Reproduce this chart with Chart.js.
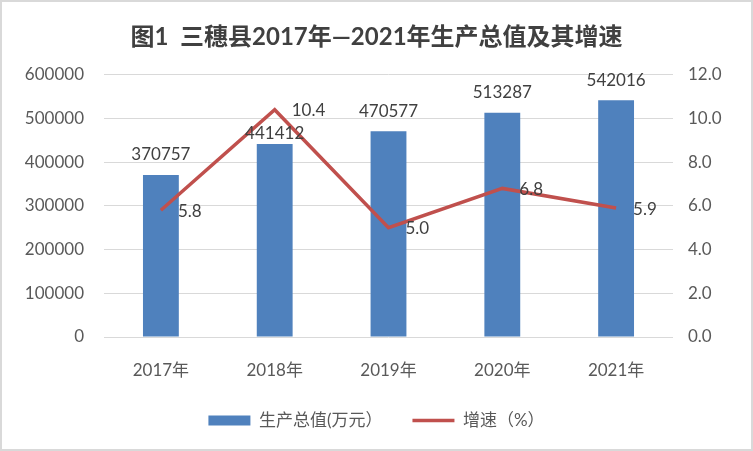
<!DOCTYPE html>
<html>
<head>
<meta charset="utf-8">
<script src="https://cdn.jsdelivr.net/npm/chart.js@4.4.0/dist/chart.umd.min.js"></script>
<style>
  html, body { margin: 0; padding: 0; background: #fff; }
  #wrap { width: 753px; height: 451px; position: relative; }
  #frame { position: absolute; left: 0; top: 0; width: 753px; height: 451px; box-sizing: border-box;
           border: 2px solid #d9d9d9; pointer-events: none; }
  canvas { display: block; position: absolute; left: 0; top: 0; }
</style>
</head>
<body>
<div id="wrap"><canvas id="chart" width="753" height="451"></canvas><div id="frame"></div></div>
<script>
// ===== 数据 =====
const years = ["2017年", "2018年", "2019年", "2020年", "2021年"];
const gdpValues = [370757, 441412, 470577, 513287, 542016];   // 生产总值(万元)
const growthRates = [5.8, 10.4, 5.0, 6.8, 5.9];               // 增速（%）
const leftTicks = [0, 100000, 200000, 300000, 400000, 500000, 600000];
const rightTicks = [0, 2, 4, 6, 8, 10, 12];

// 标签离柱顶的距离（原图2018年的标签被手动下移）
const barLabelLift = [20, 11, 20, 20, 20];

const FONT = "Lato, 'Noto Sans CJK SC', sans-serif";
const TEXT = "#595959";

// 数据标签
const labelPlugin = {
    id: "valueLabels",
    afterDatasetsDraw(chart) {
        const ctx = chart.ctx;
        ctx.save();
        ctx.font = "17px " + FONT;
        ctx.fillStyle = "#404040";
        ctx.textBaseline = "middle";
        chart.data.datasets.forEach(function (ds, i) {
            const meta = chart.getDatasetMeta(i);
            meta.data.forEach(function (el, j) {
                if (ds.type === "bar") {
                    ctx.textAlign = "center";
                    ctx.fillText(String(ds.data[j]), el.x, el.y - barLabelLift[j]);
                } else {
                    ctx.textAlign = "left";
                    ctx.fillText(ds.data[j].toFixed(1), el.x + 17, el.y + 1);
                }
            });
        });
        ctx.restore();
    }
};

new Chart(document.getElementById("chart"), {
    data: {
        labels: years,
        datasets: [{
            type: "bar",
            label: "生产总值(万元）",
            data: gdpValues,
            backgroundColor: "#4f81bd",
            borderWidth: 0,
            barPercentage: 0.63,
            categoryPercentage: 0.5,
            yAxisID: "y",
            pointStyle: "rect",
            order: 1
        }, {
            type: "line",
            label: "增速（%）",
            data: growthRates,
            borderColor: "#c0504d",
            backgroundColor: "#c0504d",
            borderWidth: 3.5,
            tension: 0,
            pointRadius: 0,
            pointHoverRadius: 0,
            pointStyle: "line",
            yAxisID: "y1",
            order: 0
        }]
    },
    options: {
        responsive: false,
        animation: false,
        devicePixelRatio: 1,
        layout: { padding: { top: 8, left: 0, right: 0, bottom: 12 } },
        scales: {
            x: {
                grid: { display: false, drawTicks: false },
                border: { display: false },
                afterFit: function (axis) { axis.height = 45; },
                ticks: { color: TEXT, font: { family: FONT, size: 17 }, padding: 23, maxRotation: 0, autoSkip: false }
            },
            y: {
                position: "left",
                min: 0,
                max: 600000,
                afterBuildTicks: function (axis) {
                    axis.ticks = leftTicks.map(function (v) { return { value: v }; });
                },
                afterFit: function (axis) { axis.width = 104; },
                grid: { color: "#d9d9d9", lineWidth: 1, drawTicks: false },
                border: { display: false },
                ticks: {
                    color: TEXT,
                    font: { family: FONT, size: 17 },
                    padding: 20,
                    callback: function (v) { return String(v); }
                }
            },
            y1: {
                position: "right",
                min: 0,
                max: 12,
                afterBuildTicks: function (axis) {
                    axis.ticks = rightTicks.map(function (v) { return { value: v }; });
                },
                afterFit: function (axis) { axis.width = 80; },
                grid: { display: false, drawTicks: false },
                border: { display: false },
                ticks: {
                    color: TEXT,
                    font: { family: FONT, size: 17 },
                    padding: 15,
                    callback: function (v) { return Number(v).toFixed(1); }
                }
            }
        },
        plugins: {
            title: {
                display: true,
                text: "图1  三穗县2017年—2021年生产总值及其增速",
                color: "#404040",
                font: { family: FONT, size: 24, weight: "bold" },
                padding: { top: 15, bottom: 23 }
            },
            legend: {
                position: "bottom",
                labels: {
                    usePointStyle: true,
                    pointStyleWidth: 42,
                    boxHeight: 10,
                    padding: 30,
                    color: TEXT,
                    font: { family: FONT, size: 17 },
                    sort: function (a, b) { return a.datasetIndex - b.datasetIndex; }
                }
            },
            tooltip: { enabled: false }
        }
    },
    plugins: [labelPlugin]
});
</script>
</body>
</html>
